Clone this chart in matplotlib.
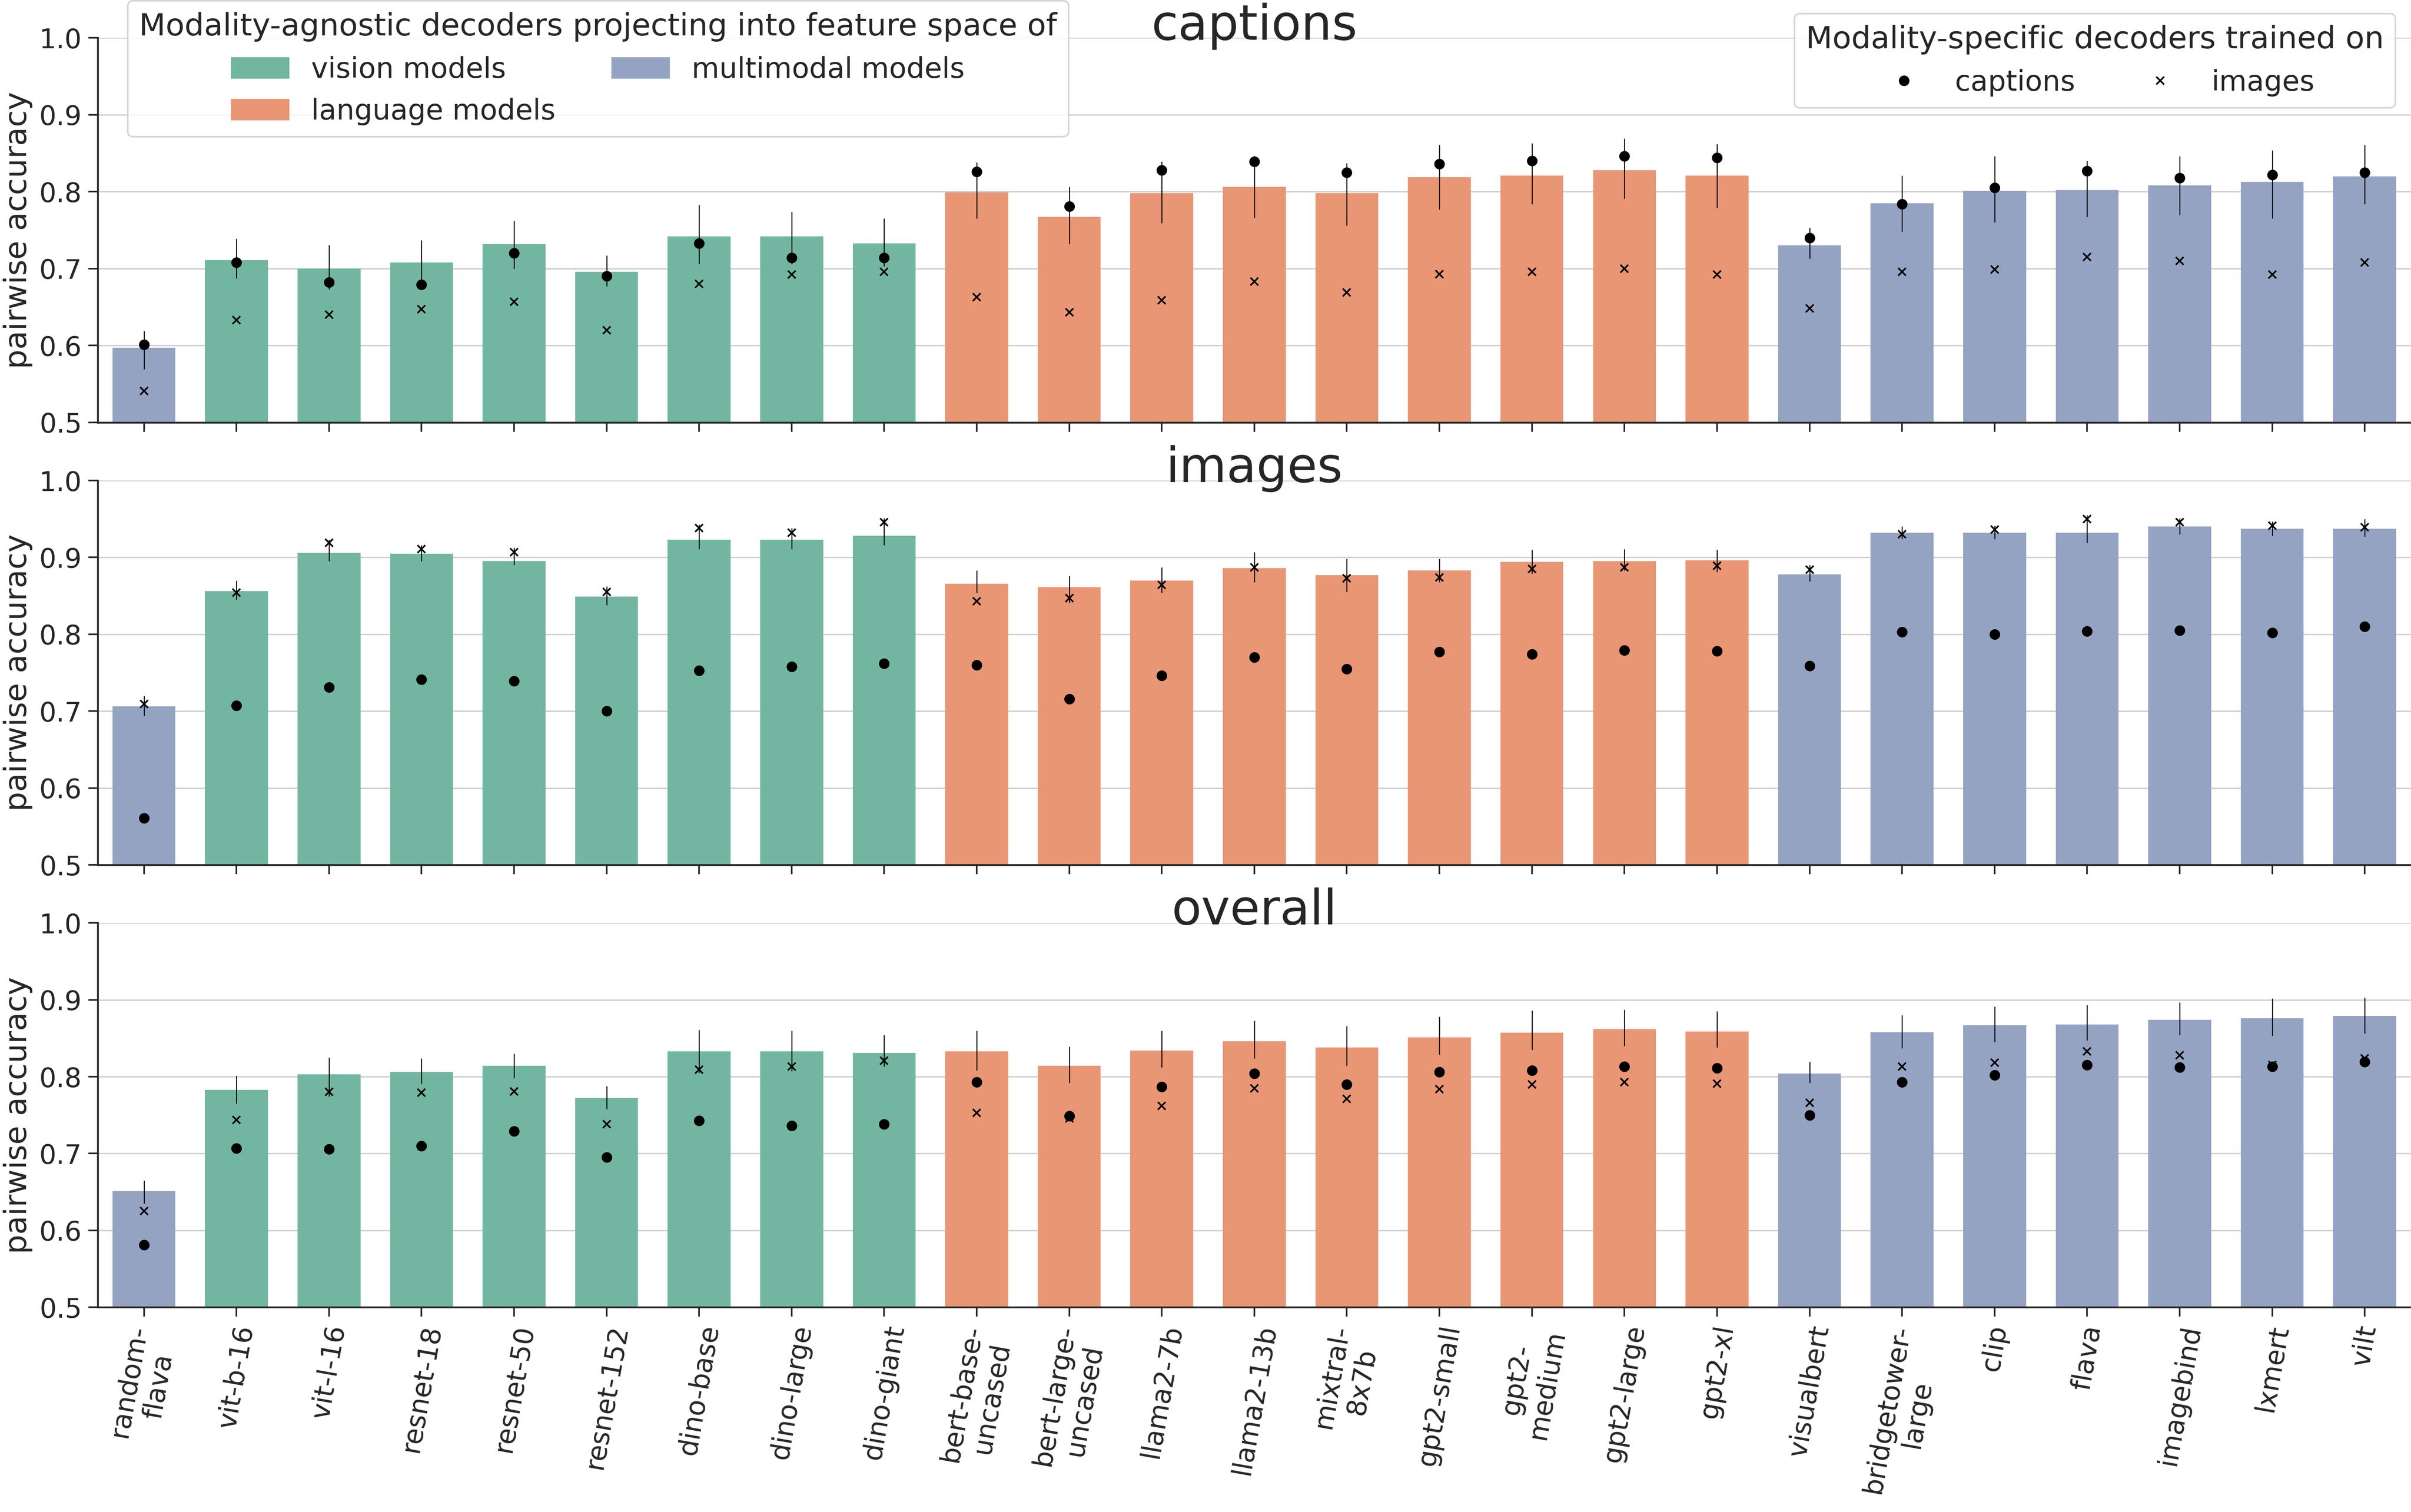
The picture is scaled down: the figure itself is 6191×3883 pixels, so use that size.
import matplotlib
matplotlib.use("Agg")
import matplotlib.pyplot as plt
from matplotlib.patches import Patch
from matplotlib.lines import Line2D

# model names (x tick labels) and which feature space they belong to
labels = ["random-\nflava", "vit-b-16", "vit-l-16", "resnet-18", "resnet-50", "resnet-152",
          "dino-base", "dino-large", "dino-giant", "bert-base-\nuncased", "bert-large-\nuncased",
          "llama2-7b", "llama2-13b", "mixtral-\n8x7b", "gpt2-small", "gpt2-\nmedium", "gpt2-large",
          "gpt2-xl", "visualbert", "bridgetower-\nlarge", "clip", "flava", "imagebind", "lxmert", "vilt"]
groups = ["multimodal"] + ["vision"] * 8 + ["language"] * 9 + ["multimodal"] * 7

# captions panel
cap_bar = [.597, .711, .700, .708, .732, .696, .742, .742, .733, .799, .767, .798, .806,
           .798, .819, .821, .828, .821, .730, .785, .801, .802, .808, .813, .820]
cap_lo = [.569, .687, .673, .673, .700, .677, .706, .706, .703, .765, .732, .759, .766,
          .756, .777, .784, .791, .779, .713, .748, .760, .767, .770, .765, .784]
cap_hi = [.619, .739, .731, .737, .762, .717, .783, .774, .765, .838, .806, .839, .847,
          .837, .861, .863, .869, .862, .753, .821, .846, .840, .846, .854, .861]
cap_dot = [.601, .708, .682, .679, .720, .690, .733, .714, .714, .826, .781, .828, .839,
           .825, .836, .840, .846, .844, .740, .784, .805, .827, .818, .822, .825]
cap_x = [.541, .633, .640, .647, .657, .620, .680, .692, .696, .663, .643, .659, .683,
         .669, .693, .696, .700, .692, .648, .696, .699, .715, .710, .692, .708]

# images panel
img_bar = [.706, .856, .906, .905, .895, .849, .923, .923, .928, .866, .861, .870, .886,
           .877, .883, .894, .895, .896, .878, .932, .932, .932, .940, .937, .937]
img_lo = [.694, .845, .895, .895, .890, .838, .911, .911, .916, .854, .841, .854, .868,
          .855, .868, .879, .883, .881, .869, .924, .924, .919, .930, .928, .927]
img_hi = [.720, .870, .923, .916, .913, .862, .943, .938, .951, .883, .876, .887, .907,
          .898, .898, .910, .911, .910, .890, .940, .941, .955, .951, .947, .950]
img_dot = [.561, .707, .731, .741, .739, .700, .753, .758, .762, .760, .716, .746, .770,
           .755, .777, .774, .779, .778, .759, .803, .800, .804, .805, .802, .810]
img_x = [.709, .854, .919, .911, .907, .855, .938, .932, .946, .843, .847, .864, .887,
         .873, .874, .885, .887, .889, .884, .930, .936, .950, .946, .941, .939]

# overall panel
all_bar = [.651, .783, .803, .806, .814, .772, .833, .833, .831, .833, .814, .834, .846,
           .838, .851, .857, .862, .859, .804, .858, .867, .868, .874, .876, .879]
all_lo = [.635, .765, .774, .791, .798, .758, .805, .807, .813, .808, .792, .812, .824,
          .814, .829, .835, .840, .838, .792, .837, .845, .847, .854, .853, .856]
all_hi = [.665, .801, .825, .824, .830, .788, .861, .860, .854, .860, .839, .860, .873,
          .866, .878, .886, .887, .885, .819, .880, .891, .893, .897, .902, .903]
all_dot = [.581, .707, .706, .710, .729, .695, .743, .736, .738, .793, .749, .787, .804,
           .790, .806, .808, .813, .811, .750, .793, .802, .815, .812, .813, .819]
all_x = [.625, .744, .780, .779, .781, .738, .809, .813, .821, .753, .746, .762, .785,
         .771, .784, .790, .793, .791, .766, .813, .818, .833, .828, .815, .824]

colors = {"vision": "#72b6a1", "language": "#e99675", "multimodal": "#95a3c3"}
dark = "#262626"

panels = [("captions", cap_bar, cap_lo, cap_hi, cap_dot, cap_x),
          ("images", img_bar, img_lo, img_hi, img_dot, img_x),
          ("overall", all_bar, all_lo, all_hi, all_dot, all_x)]
bottoms = [0.7207, 0.4280, 0.1354]

fig = plt.figure(figsize=(6191 / 300, 3883 / 300), dpi=300)
x = list(range(len(labels)))
bar_colors = [colors[g] for g in groups]

for i, (name, bar, lo, hi, dot, cross) in enumerate(panels):
    ax = fig.add_axes([0.0405, bottoms[i], 0.9595, 0.2542])
    ax.set_axisbelow(True)
    ax.grid(axis="y", color="#cccccc", lw=0.8)
    ax.bar(x, [b - 0.5 for b in bar], bottom=0.5, width=0.68, color=bar_colors, zorder=2)
    ax.vlines(x, lo, hi, color="black", lw=0.6, zorder=3)
    ax.plot(x, dot, "o", color="black", ms=5.5, ls="none", zorder=4)
    ax.plot(x, cross, "x", color="black", ms=5, mew=1, ls="none", zorder=4)
    ax.set_xlim(-0.5, len(labels) - 0.5)
    ax.set_ylim(0.5, 1.0)
    ax.set_yticks([0.5, 0.6, 0.7, 0.8, 0.9, 1.0])
    ax.set_xticks(x)
    if i == 2:
        ax.set_xticklabels(labels, rotation=80, fontsize=17, color=dark)
    else:
        ax.set_xticklabels([])
    ax.tick_params(axis="both", length=5.7, width=1, color=dark, labelsize=16.5,
                   labelcolor=dark, pad=4)
    ax.set_ylabel("pairwise accuracy", fontsize=19, color=dark)
    ax.set_title(name, fontsize=30, color=dark, y=1.0, pad=-1)
    ax.spines["right"].set_visible(False)
    ax.spines["top"].set_visible(False)
    for s in ["left", "bottom"]:
        ax.spines[s].set_color(dark)
        ax.spines[s].set_linewidth(1.1)

h1 = [Patch(color=colors["vision"], label="vision models"),
      Patch(color=colors["language"], label="language models"),
      Patch(color=colors["multimodal"], label="multimodal models")]
leg1 = fig.legend(handles=h1, ncol=2, loc="upper left", bbox_to_anchor=(0.053, 0.9995),
                  bbox_transform=fig.transFigure, borderaxespad=0, fontsize=17.5,
                  title="Modality-agnostic decoders projecting into feature space of",
                  title_fontsize=19, edgecolor="#cccccc")

h2 = [Line2D([], [], marker="o", color="black", ls="none", ms=5.5, label="captions"),
      Line2D([], [], marker="x", color="black", ls="none", ms=5, mew=1, label="images")]
leg2 = fig.legend(handles=h2, ncol=2, loc="upper right", bbox_to_anchor=(0.9935, 0.991),
                  bbox_transform=fig.transFigure, borderaxespad=0, fontsize=17.5,
                  title="Modality-specific decoders trained on", title_fontsize=19,
                  edgecolor="#cccccc")
for leg in (leg1, leg2):
    for t in leg.get_texts():
        t.set_color(dark)
    leg.get_title().set_color(dark)

fig.savefig("out.png", dpi=300)
